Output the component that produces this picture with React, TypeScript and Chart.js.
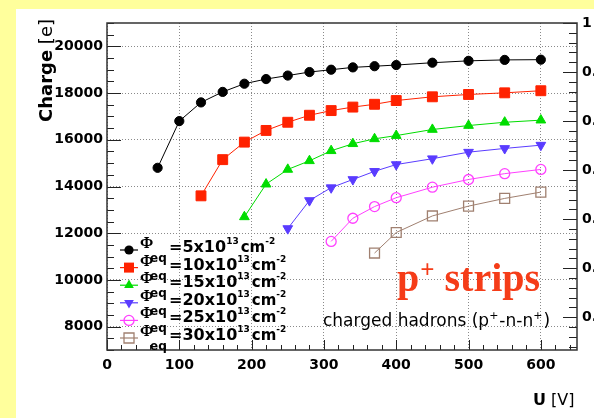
import React, { useEffect, useRef } from 'react';
import { Chart, registerables } from 'chart.js';

Chart.register(...registerables);

// ---------------- data ----------------
const voltage5 = [70, 100, 130, 160, 190, 220, 250, 280, 310, 340, 370, 400, 450, 500, 550, 600];
const charge5 = [14800, 16800, 17600, 18050, 18400, 18600, 18750, 18900, 19000, 19100, 19150, 19200, 19300, 19380, 19420, 19430];

const voltage10 = [130, 160, 190, 220, 250, 280, 310, 340, 370, 400, 450, 500, 550, 600];
const charge10 = [13600, 15150, 15900, 16400, 16750, 17050, 17250, 17400, 17520, 17680, 17840, 17940, 18010, 18100];

const voltage15 = [190, 220, 250, 280, 310, 340, 370, 400, 450, 500, 550, 600];
const charge15 = [12700, 14100, 14730, 15100, 15530, 15830, 16040, 16180, 16440, 16610, 16750, 16840];

const voltage20 = [250, 280, 310, 340, 370, 400, 450, 500, 550, 600];
const charge20 = [12200, 13400, 13950, 14300, 14650, 14940, 15190, 15470, 15630, 15770];

const voltage25 = [310, 340, 370, 400, 450, 500, 550, 600];
const charge25 = [11650, 12640, 13140, 13520, 13970, 14300, 14550, 14730];

const voltage30 = [370, 400, 450, 500, 550, 600];
const charge30 = [11150, 12030, 12740, 13160, 13490, 13760];

const fluences = ['5', '10', '15', '20', '25', '30'];
const xTickValues = [0, 100, 200, 300, 400, 500, 600];
const yTickValues = [8000, 10000, 12000, 14000, 16000, 18000, 20000];
const cceTickValues = [0.4, 0.5, 0.6, 0.7, 0.8, 0.9, 1.0];
const xLimits = [0, 650];
const yLimits = [7000, 21000];

// ---------------- styles ----------------
const SANS = '"DejaVu Sans", sans-serif';
const SERIF = '"Liberation Serif", "DejaVu Serif", serif';

type MarkerKind = 'circle' | 'square' | 'tri' | 'triDown' | 'openCircle' | 'openSquare';
const seriesStyles: { color: string; kind: MarkerKind }[] = [
  { color: '#000000', kind: 'circle' },
  { color: '#ff2200', kind: 'square' },
  { color: '#00dd00', kind: 'tri' },
  { color: '#5a3cff', kind: 'triDown' },
  { color: '#ff40ff', kind: 'openCircle' },
  { color: '#a08070', kind: 'openSquare' },
];
const seriesData = [
  [voltage5, charge5],
  [voltage10, charge10],
  [voltage15, charge15],
  [voltage20, charge20],
  [voltage25, charge25],
  [voltage30, charge30],
];

function pointOpts(kind: MarkerKind, color: string) {
  switch (kind) {
    case 'circle':
      return { pointStyle: 'circle', pointRadius: 4.6, pointBackgroundColor: color, pointBorderWidth: 1 };
    case 'square':
      return { pointStyle: 'rect', pointRadius: 7, pointBackgroundColor: color, pointBorderWidth: 1 };
    case 'tri':
      return { pointStyle: 'triangle', pointRadius: 5.6, pointBackgroundColor: color, pointBorderWidth: 1 };
    case 'triDown':
      return { pointStyle: 'triangle', pointRotation: 180, pointRadius: 5.6, pointBackgroundColor: color, pointBorderWidth: 1 };
    case 'openCircle':
      return { pointStyle: 'circle', pointRadius: 5, pointBackgroundColor: 'rgba(0,0,0,0)', pointBorderWidth: 1.3 };
    case 'openSquare':
      return { pointStyle: 'rect', pointRadius: 7, pointBackgroundColor: 'rgba(0,0,0,0)', pointBorderWidth: 1.3 };
  }
}

function drawMarker(ctx: CanvasRenderingContext2D, kind: MarkerKind, color: string, x: number, y: number) {
  ctx.save();
  ctx.fillStyle = color;
  ctx.strokeStyle = color;
  ctx.lineWidth = 1.3;
  ctx.beginPath();
  if (kind === 'circle') {
    ctx.arc(x, y, 4.6, 0, Math.PI * 2);
    ctx.fill();
  } else if (kind === 'square') {
    ctx.rect(x - 5, y - 5, 10, 10);
    ctx.fill();
  } else if (kind === 'tri' || kind === 'triDown') {
    const r = 5.6;
    const s = kind === 'tri' ? 1 : -1;
    ctx.moveTo(x, y - s * r);
    ctx.lineTo(x + r * 0.866, y + s * r * 0.5);
    ctx.lineTo(x - r * 0.866, y + s * r * 0.5);
    ctx.closePath();
    ctx.fill();
  } else if (kind === 'openCircle') {
    ctx.arc(x, y, 5, 0, Math.PI * 2);
    ctx.stroke();
  } else {
    ctx.rect(x - 5, y - 5, 10, 10);
    ctx.stroke();
  }
  ctx.restore();
}

const decorPlugin = {
  id: 'decor',
  beforeDraw(chart: any) {
    const ctx: CanvasRenderingContext2D = chart.ctx;
    ctx.save();
    ctx.fillStyle = '#ffff9c';
    ctx.fillRect(0, 0, chart.width, chart.height);
    ctx.fillStyle = '#ffffff';
    ctx.fillRect(16, 9, chart.width - 16, chart.height - 9);
    ctx.restore();
  },
  afterDraw(chart: any) {
    const ctx: CanvasRenderingContext2D = chart.ctx;
    const a = chart.chartArea;
    const sx = chart.scales.x;
    const sy = chart.scales.y;
    const sy2 = chart.scales.y2;
    ctx.save();

    // inner tick marks (ROOT style)
    ctx.strokeStyle = '#222';
    ctx.lineWidth = 1;
    ctx.beginPath();
    for (let v = xLimits[0]; v <= xLimits[1]; v += 20) {
      const px = Math.round(sx.getPixelForValue(v)) + 0.5;
      const len = v % 100 === 0 ? 10 : 5;
      ctx.moveTo(px, a.bottom);
      ctx.lineTo(px, a.bottom - len);
    }
    for (let v = yLimits[0]; v <= yLimits[1]; v += 500) {
      const py = Math.round(sy.getPixelForValue(v)) + 0.5;
      const len = v % 2000 === 0 ? 14 : 7;
      ctx.moveTo(a.left, py);
      ctx.lineTo(a.left + len, py);
    }
    for (let i = 17; i <= 50; i++) {
      const py = Math.round(sy2.getPixelForValue(i * 0.02)) + 0.5;
      const len = i % 5 === 0 ? 14 : 8;
      ctx.moveTo(a.right, py);
      ctx.lineTo(a.right - len, py);
    }
    ctx.stroke();

    // frame
    ctx.strokeStyle = '#333';
    ctx.lineWidth = 1.5;
    ctx.strokeRect(a.left, a.top, a.right - a.left, a.bottom - a.top);

    // legend
    const lx = a.left + 22;
    const ly0 = a.top + 227;
    const dy = 17.6;
    ctx.textAlign = 'left';
    ctx.textBaseline = 'alphabetic';
    fluences.forEach((f, i) => {
      const st = seriesStyles[i];
      const yc = ly0 + i * dy;
      ctx.strokeStyle = st.color;
      ctx.lineWidth = 1.2;
      ctx.beginPath();
      ctx.moveTo(lx - 9, yc);
      ctx.lineTo(lx + 9, yc);
      ctx.stroke();
      drawMarker(ctx, st.kind, st.color, lx, yc);

      ctx.fillStyle = '#000';
      const tx = lx + 11;
      ctx.font = `bold 16px ${SERIF}`;
      ctx.fillText('Φ', tx, yc - 2);
      ctx.font = `bold 12px ${SANS}`;
      ctx.fillText('eq', tx + 10, yc + 12);
      let cx = tx + 29;
      ctx.font = `bold 16px ${SANS}`;
      const main = '=' + f + 'x10';
      ctx.fillText(main, cx, yc + 2);
      cx += ctx.measureText(main).width;
      ctx.font = `bold 9px ${SANS}`;
      ctx.fillText('13', cx, yc - 6);
      cx += ctx.measureText('13').width + 2;
      ctx.font = `bold 15px ${SANS}`;
      ctx.fillText('cm', cx, yc + 2);
      cx += ctx.measureText('cm').width;
      ctx.font = `bold 9px ${SANS}`;
      ctx.fillText('-2', cx, yc - 6);
    });

    // y title
    ctx.save();
    ctx.translate(52, a.top + 99);
    ctx.rotate(-Math.PI / 2);
    ctx.fillStyle = '#000';
    ctx.font = `bold 18px ${SANS}`;
    ctx.fillText('Charge', 0, 0);
    const cw = ctx.measureText('Charge').width;
    ctx.font = `18px ${SANS}`;
    ctx.fillText(' [e]', cw, 0);
    ctx.restore();

    // x title
    ctx.fillStyle = '#000';
    ctx.font = `bold 16px ${SANS}`;
    ctx.fillText('U', 533, 405);
    const uw = ctx.measureText('U').width;
    ctx.font = `16px ${SANS}`;
    ctx.fillText(' [V]', 533 + uw, 405);

    // p+ strips
    ctx.fillStyle = '#f53c18';
    ctx.font = `bold 40px ${SERIF}`;
    let px = 397;
    ctx.fillText('p', px, 291);
    px += ctx.measureText('p').width + 1;
    ctx.font = `bold 25px ${SERIF}`;
    ctx.fillText('+', px, 278);
    px += ctx.measureText('+').width;
    ctx.font = `bold 40px ${SERIF}`;
    ctx.fillText(' strips', px, 291);

    // charged hadrons
    ctx.fillStyle = '#000';
    let hx = 323;
    const hb = 326;
    const parts: [string, boolean][] = [
      ['charged hadrons (p', false],
      ['+', true],
      ['-n-n', false],
      ['+', true],
      [')', false],
    ];
    parts.forEach(([t, sup]) => {
      ctx.font = sup ? `11px ${SANS}` : `17px ${SANS}`;
      ctx.fillText(t, hx, sup ? hb - 7 : hb);
      hx += ctx.measureText(t).width + (sup ? 1 : 0);
    });

    ctx.restore();
  },
};

export default function App() {
  const ref = useRef<HTMLCanvasElement>(null);
  useEffect(() => {
    const datasets = seriesData.map(([u, q], i) => {
      const st = seriesStyles[i];
      return {
        label: fluences[i],
        data: u.map((v, j) => ({ x: v, y: q[j] })),
        borderColor: st.color,
        pointBorderColor: st.color,
        borderWidth: 1,
        showLine: true,
        fill: false,
        tension: 0,
        ...pointOpts(st.kind, st.color),
      };
    });
    const chart = new Chart(ref.current as HTMLCanvasElement, {
      type: 'line',
      data: { datasets } as any,
      options: {
        responsive: false,
        animation: false,
        devicePixelRatio: 1,
        layout: { padding: { top: 23, left: 0, right: 0, bottom: 0 } },
        plugins: { legend: { display: false }, tooltip: { enabled: false } },
        scales: {
          x: {
            type: 'linear',
            min: xLimits[0],
            max: xLimits[1],
            afterBuildTicks: (s: any) => {
              s.ticks = xTickValues.map((v) => ({ value: v }));
            },
            afterFit: (s: any) => {
              s.height = 68;
            },
            grid: { color: '#8a8a8a', lineWidth: 1, drawTicks: false },
            border: { display: false, dash: [1, 2] },
            ticks: { color: '#000', font: { family: SANS, size: 14, weight: 'bold' }, padding: 7, maxRotation: 0, autoSkip: false },
          },
          y: {
            type: 'linear',
            position: 'left',
            min: yLimits[0],
            max: yLimits[1],
            afterBuildTicks: (s: any) => {
              s.ticks = yTickValues.map((v) => ({ value: v }));
            },
            afterFit: (s: any) => {
              s.width = 107;
            },
            grid: { color: '#8a8a8a', lineWidth: 1, drawTicks: false },
            border: { display: false, dash: [1, 2] },
            ticks: { color: '#000', font: { family: SANS, size: 14, weight: 'bold' }, padding: 4, autoSkip: false, callback: (v: any) => String(v) },
          },
          y2: {
            type: 'linear',
            position: 'right',
            min: yLimits[0] / yLimits[1],
            max: 1,
            afterBuildTicks: (s: any) => {
              s.ticks = cceTickValues.map((v) => ({ value: v }));
            },
            afterFit: (s: any) => {
              s.width = 17;
            },
            grid: { display: false, drawTicks: false },
            border: { display: false },
            ticks: {
              color: '#000',
              font: { family: SANS, size: 14, weight: 'bold' },
              padding: 5,
              autoSkip: false,
              callback: (v: any) => (Math.abs(v - 1) < 1e-9 ? '1' : Number(v).toFixed(1)),
            },
          },
        },
      } as any,
      plugins: [decorPlugin],
    });
    return () => chart.destroy();
  }, []);
  return (
    <div style={{ position: 'fixed', left: 0, top: 0, width: 594, height: 418 }}>
      <canvas ref={ref} width={594} height={418} style={{ display: 'block', width: 594, height: 418 }} />
    </div>
  );
}
